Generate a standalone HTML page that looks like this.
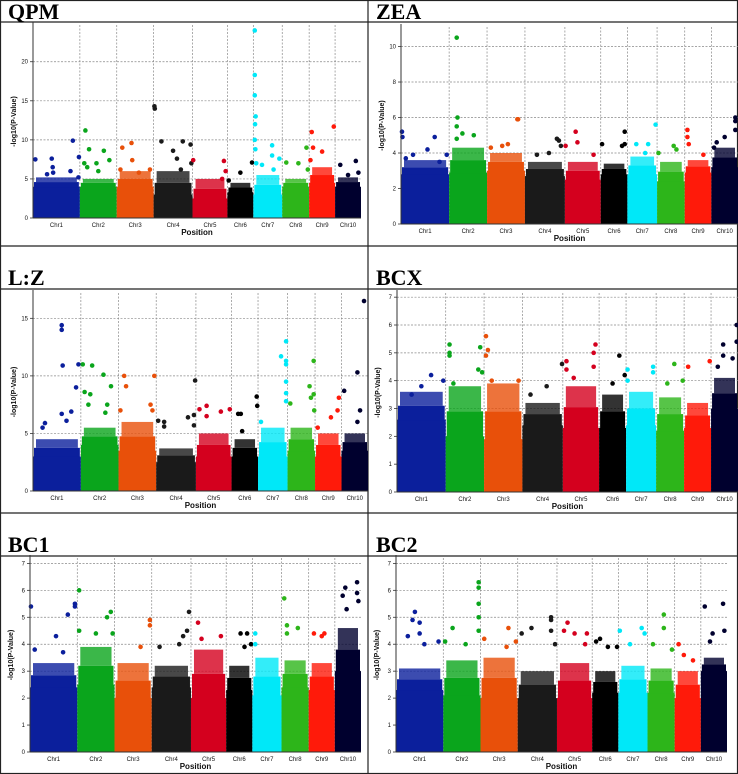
<!DOCTYPE html>
<html><head><meta charset="utf-8">
<style>
html,body{margin:0;padding:0;background:#fff;}
svg{display:block;}
</style></head>
<body>
<svg id="fig" width="738" height="774" viewBox="0 0 738 774" xmlns="http://www.w3.org/2000/svg">
<rect x="0" y="0" width="738" height="774" fill="#fff"/>
<g id="frame" stroke="#222" stroke-width="1.2" fill="none">
  <rect x="0.5" y="0.5" width="737" height="773"/>
  <line x1="368" y1="0" x2="368" y2="774"/>
  <line x1="0" y1="22" x2="738" y2="22"/>
  <line x1="0" y1="246" x2="738" y2="246"/>
  <line x1="0" y1="289" x2="738" y2="289"/>
  <line x1="0" y1="513" x2="738" y2="513"/>
  <line x1="0" y1="556" x2="738" y2="556"/>
</g>
<g font-family="Liberation Serif, serif" font-weight="bold" font-size="22" fill="#000">
  <text x="8" y="19">QPM</text>
  <text x="376" y="19">ZEA</text>
  <text x="8" y="285">L:Z</text>
  <text x="376" y="285">BCX</text>
  <text x="8" y="552">BC1</text>
  <text x="376" y="552">BC2</text>
</g>
<g id="plots"></g>
</svg>
<script>
// ---- data ----
const chrNames = ["Chr1","Chr2","Chr3","Chr4","Chr5","Chr6","Chr7","Chr8","Chr9","Chr10"];
const chrLen = [47,37,37,39,35,26,29,27,26,26];
const chrColors = ["#0b1f9c","#0aa51c","#e8500a","#1a1a1a","#d4001e","#000000","#00e8f8","#2db51a","#ff1a0a","#00002e"];

const qpmTicks = [0,5,10,15,20];
const qpmBase = [4,4,4,3,2.5,3.3,3,4,4.5,4];
const qpmTop = [5.2,5,6,6,5,4.5,5.5,5,6.5,5.2];
const qpmPeaks = [[0,0.05,7.5],[0,0.3,5.6],[0,0.4,7.6],[0,0.42,6.5],[0,0.43,5.8],[0,0.85,9.9],[0,0.8,6],[0,0.98,7.8],[0,0.97,5.2],
 [1,0.12,7],[1,0.15,11.2],[1,0.25,8.8],[1,0.2,6.5],[1,0.45,7],[1,0.65,8.6],[1,0.8,7.4],[1,0.5,6],
 [2,0.15,9],[2,0.4,9.6],[2,0.42,7.4],[2,0.1,6.2],[2,0.6,5.8],[2,0.9,6.2],
 [3,0.02,14.3],[3,0.03,14],[3,0.2,9.8],[3,0.5,8.6],[3,0.6,7.6],[3,0.75,9.8],[3,0.95,9.4],[3,0.97,7],[3,0.7,6.2],
 [4,0.02,7.4],[4,0.9,7.3],[4,0.95,6],[4,0.85,5],
 [5,0.05,4.8],[5,0.5,5.8],[5,0.95,7.1],
 [6,0.05,24],[6,0.05,18.3],[6,0.05,15.7],[6,0.08,13],[6,0.06,12],[6,0.05,10],[6,0.07,8.8],[6,0.1,7],[6,0.3,6.8],[6,0.65,9.3],[6,0.65,8],[6,0.9,7.6],[6,0.7,6.2],
 [7,0.15,7.1],[7,0.6,7],[7,0.9,9],[7,0.95,6.2],
 [8,0.1,11],[8,0.15,9],[8,0.5,8.5],[8,0.95,11.7],[8,0.05,7.4],
 [9,0.2,6.8],[9,0.5,5.5],[9,0.8,7.3],[9,0.9,5.8]];

const zeaTicks = [0,2,4,6,8,10];
const zeaBase = [2.8,2.9,3,2.7,2.5,2.8,2.8,2.4,2.9,3.2];
const zeaTop = [3.6,4.3,4,3.5,3.5,3.4,3.8,3.5,3.6,4.3];
const zeaPeaks = [[0,0.02,5.2],[0,0.03,4.9],[0,0.1,3.7],[0,0.25,3.9],[0,0.55,4.2],[0,0.7,4.9],[0,0.8,3.5],[0,0.95,3.9],
 [1,0.2,10.5],[1,0.22,6],[1,0.2,5.5],[1,0.35,5.1],[1,0.65,5],[1,0.2,4.8],
 [2,0.1,4.3],[2,0.4,4.4],[2,0.55,4.5],[2,0.8,5.9],[2,0.82,5.9],
 [3,0.6,4],[3,0.8,4.8],[3,0.85,4.7],[3,0.9,4.4],[3,0.3,3.9],
 [4,0.02,4.4],[4,0.3,5.2],[4,0.35,4.6],[4,0.8,3.9],
 [5,0.05,4.5],[5,0.9,5.2],[5,0.9,4.5],[5,0.8,4.4],
 [6,0.3,4.5],[6,0.7,4.5],[6,0.6,4],[6,0.95,5.6],
 [7,0.05,4],[7,0.6,4.4],[7,0.7,4.2],
 [8,0.1,5.3],[8,0.15,4.5],[8,0.1,4.9],[8,0.7,3.9],
 [9,0.9,6],[9,0.9,5.8],[9,0.9,5.3],[9,0.5,4.9],[9,0.1,4.3],[9,0.2,4.6]];

const lzTicks = [0,5,10,15];
const lzBase = [3,4,3.5,2.5,3,3,3,3.5,3,3.5];
const lzTop = [4.5,5.5,6,3.7,5,4.5,5.5,5.5,5,5];
const lzPeaks = [[0,0.6,14.4],[0,0.6,14],[0,0.62,10.9],[0,0.95,11],[0,0.9,9],[0,0.6,6.7],[0,0.8,6.9],[0,0.7,6.1],[0,0.2,5.5],[0,0.25,5.9],
 [1,0.05,11],[1,0.3,10.9],[1,0.6,10.1],[1,0.8,9.1],[1,0.1,8.6],[1,0.25,8.4],[1,0.2,7.5],[1,0.7,7.5],[1,0.65,6.8],
 [2,0.15,10],[2,0.2,9.1],[2,0.95,10],[2,0.85,7.5],[2,0.05,7],[2,0.9,7],
 [3,0.05,6.1],[3,0.2,6],[3,0.2,5.6],[3,0.8,6.4],[3,0.98,9.6],[3,0.95,6.6],[3,0.95,5.7],
 [4,0.1,7.1],[4,0.3,7.4],[4,0.7,6.9],[4,0.95,7.1],[4,0.3,6.5],
 [5,0.25,6.7],[5,0.35,6.7],[5,0.95,8.2],[5,0.97,7.4],[5,0.4,5.2],
 [6,0.95,13],[6,0.95,11.3],[6,0.78,11.7],[6,0.95,11],[6,0.95,9.5],[6,0.95,8.5],[6,0.95,7.8],[6,0.1,6],
 [7,0.1,7.6],[7,0.8,9.1],[7,0.85,8.1],[7,0.95,11.3],[7,0.95,8.4],[7,0.97,7],
 [8,0.9,8.1],[8,0.85,7],[8,0.6,6.4],[8,0.1,5.5],
 [9,0.1,8.7],[9,0.6,10.3],[9,0.85,16.5],[9,0.7,7],[9,0.6,6]];

const bcTicks = [0,1,2,3,4,5,6,7];
const bcxBase = [2.6,2,1.9,2.4,2.3,2.3,2.4,2.2,2.3,3];
const bcxTop = [3.6,3.8,3.9,3.2,3.8,3.5,3.6,3.4,3.2,4.1];
const bcxPeaks = [[0,0.7,4.2],[0,0.5,3.8],[0,0.95,4],[0,0.3,3.5],
 [1,0.1,5.3],[1,0.1,4.9],[1,0.1,5],[1,0.9,5.2],[1,0.85,4.4],[1,0.95,4.3],[1,0.2,3.9],
 [2,0.05,5.6],[2,0.1,5.1],[2,0.05,4.9],[2,0.2,4],[2,0.9,4],
 [3,0.6,3.8],[3,0.2,3.5],[3,0.98,4.6],
 [4,0.1,4.7],[4,0.9,5.3],[4,0.85,5],[4,0.85,4.5],[4,0.1,4.4],[4,0.3,4.1],
 [5,0.75,4.9],[5,0.95,4.2],[5,0.5,3.9],
 [6,0.05,4.4],[6,0.9,4.5],[6,0.9,4.3],[6,0.05,4],
 [7,0.65,4.6],[7,0.4,3.9],[7,0.95,4],
 [8,0.15,4.5],[8,0.95,4.7],
 [9,0.95,6],[9,0.95,5.4],[9,0.45,5.3],[9,0.45,4.9],[9,0.25,4.5],[9,0.8,4.8]];

const bc1Base = [2.4,2.5,2,2.4,2,2.3,2.1,2.4,2.3,3];
const bc1Top = [3.3,3.9,3.3,3.2,3.8,3.2,3.5,3.4,3.3,4.6];
const bc1Peaks = [[0,0.02,5.4],[0,0.8,5.1],[0,0.95,5.5],[0,0.95,5.4],[0,0.55,4.3],[0,0.1,3.8],[0,0.7,3.7],
 [1,0.05,6],[1,0.05,4.5],[1,0.5,4.4],[1,0.8,5],[1,0.9,5.2],[1,0.95,4.4],
 [2,0.95,4.9],[2,0.95,4.7],[2,0.7,3.9],
 [3,0.7,4],[3,0.8,4.3],[3,0.95,5.2],[3,0.9,4.5],[3,0.2,3.9],
 [4,0.2,4.8],[4,0.3,4.2],[4,0.85,4.3],
 [5,0.55,4.4],[5,0.8,4.4],[5,0.95,4],[5,0.7,3.9],
 [6,0.1,4.4],[6,0.1,4],
 [7,0.1,5.7],[7,0.2,4.7],[7,0.2,4.4],[7,0.6,4.6],
 [8,0.2,4.4],[8,0.5,4.3],[8,0.6,4.4],
 [9,0.3,5.8],[9,0.4,6.1],[9,0.85,6.3],[9,0.85,5.9],[9,0.9,5.6],[9,0.45,5.3]];

const bc2Base = [2.3,2.1,2,2,2,2.2,2.2,2.2,2,3];
const bc2Top = [3.1,3.4,3.5,3,3.3,3,3.2,3.1,3,3.5];
const bc2Peaks = [[0,0.35,4.9],[0,0.4,5.2],[0,0.5,4.8],[0,0.5,4.4],[0,0.25,4.3],[0,0.6,4],[0,0.9,4.1],
 [1,0.25,4.6],[1,0.95,6.3],[1,0.95,6.1],[1,0.95,5.5],[1,0.95,5],[1,0.95,4.5],[1,0.6,4],[1,0.05,4.1],
 [2,0.1,4.2],[2,0.75,4.6],[2,0.95,4.1],[2,0.7,3.9],
 [3,0.1,4.4],[3,0.35,4.6],[3,0.85,5],[3,0.85,4.9],[3,0.85,4.5],[3,0.95,4],
 [4,0.2,4.5],[4,0.3,4.8],[4,0.5,4.4],[4,0.85,4.4],[4,0.8,4],
 [5,0.15,4.1],[5,0.3,4.2],[5,0.6,3.9],[5,0.95,3.9],
 [6,0.05,4.5],[6,0.4,4],[6,0.8,4.6],[6,0.9,4.4],
 [7,0.2,4],[7,0.6,5.1],[7,0.6,4.6],[7,0.9,3.8],
 [8,0.15,4],[8,0.35,3.6],[8,0.7,3.4],
 [9,0.15,5.4],[9,0.85,5.5],[9,0.45,4.4],[9,0.9,4.5],[9,0.35,4.1]];

// ---- layout ----
const panels = [
 {id:"qpm", x0:33, x1:361, yZero:218, yTop:25, yMax:24.7, ticks:qpmTicks, base:qpmBase, top:qpmTop, peaks:qpmPeaks},
 {id:"zea", x0:401, x1:738, yZero:224, yTop:27, yMax:11.1, ticks:zeaTicks, base:zeaBase, top:zeaTop, peaks:zeaPeaks},
 {id:"lz", x0:33, x1:368, yZero:491, yTop:293, yMax:17.2, ticks:lzTicks, base:lzBase, top:lzTop, peaks:lzPeaks},
 {id:"bcx", x0:397, x1:738, yZero:492, yTop:293, yMax:7.15, ticks:bcTicks, base:bcxBase, top:bcxTop, peaks:bcxPeaks},
 {id:"bc1", x0:30, x1:361, yZero:752, yTop:558, yMax:7.2, ticks:bcTicks, base:bc1Base, top:bc1Top, peaks:bc1Peaks},
 {id:"bc2", x0:396, x1:727, yZero:752, yTop:558, yMax:7.2, ticks:bcTicks, base:bc2Base, top:bc2Top, peaks:bc2Peaks}
];
const NS = "http://www.w3.org/2000/svg";
const root = document.getElementById("plots");
function mk(tag, attrs, parent){ const e=document.createElementNS(NS,tag); for(const k in attrs) e.setAttribute(k,attrs[k]); parent.appendChild(e); return e; }
const totalLen = chrLen.reduce((a,b)=>a+b,0);

panels.forEach(p=>{
  const g = mk("g",{},root);
  
  
  const yS = v => p.yZero - v*(p.yZero-p.yTop)/p.yMax;
  const starts=[]; let acc=0; chrLen.forEach(l=>{starts.push(acc); acc+=l;});
  const xS = pos => p.x0 + pos/totalLen*(p.x1-p.x0);
  const chrX = (c,f) => xS(starts[c] + f*chrLen[c]);
  p.ticks.forEach(t=>{ if(t>0){ const l=mk("line",{x1:p.x0,x2:p.x1,y1:yS(t),y2:yS(t),stroke:"#888","stroke-width":0.7,"stroke-dasharray":"2,1.5"},g);
    
     }});
  for(let c=1;c<chrLen.length;c++){ const l=mk("line",{x1:chrX(c,0),x2:chrX(c,0),y1:p.yTop,y2:p.yZero,stroke:"#888","stroke-width":0.7,"stroke-dasharray":"2,1.5"},g);
    
     }
  chrLen.forEach((l,c)=>{
    const xa=chrX(c,0), xb=chrX(c,1);
    const mid = (p.base[c]+p.top[c])/2;
    const r1=mk("rect",{x:xa,y:yS(p.base[c]),width:xb-xa,height:p.yZero-yS(p.base[c]),fill:chrColors[c]},g);
    
    
    const r2=mk("rect",{x:xa+1,y:yS(mid),width:xb-xa-2,height:yS(p.base[c])-yS(mid)+0.5,fill:chrColors[c]},g);
    
    
    const r3=mk("rect",{x:xa+3,y:yS(p.top[c]),width:xb-xa-6,height:yS(mid)-yS(p.top[c]),fill:chrColors[c],opacity:0.8},g);
    
    
  });
  p.peaks.forEach(pk=>{
    const d=mk("circle",{cx:chrX(pk[0],pk[1]),cy:yS(pk[2]),r:2.3,fill:chrColors[pk[0]]},g);
    
    
  });
  const ya=mk("line",{x1:p.x0,x2:p.x0,y1:p.yTop-3,y2:p.yZero,stroke:"#333","stroke-width":1},g);
  
  
  const xa=mk("line",{x1:p.x0,x2:p.x1,y1:p.yZero,y2:p.yZero,stroke:"#333","stroke-width":1},g);
  
  
  p.ticks.forEach(t=>{
    mk("line",{x1:p.x0-3,x2:p.x0,y1:yS(t),y2:yS(t),stroke:"#333","stroke-width":0.8},g);
    const tx=mk("text",{x:p.x0-5,y:yS(t)+2,"font-size":6,"font-family":"Liberation Sans, sans-serif","text-anchor":"end",fill:"#111"},g);
    tx.textContent=t;
    
    
  });
  chrNames.forEach((n,c)=>{
    const tx=mk("text",{x:chrX(c,0.5),y:p.yZero+9,"font-size":6,"font-family":"Liberation Sans, sans-serif","text-anchor":"middle",fill:"#111"},g);
    tx.textContent=n;
    
    
  });
  const xt=mk("text",{x:(p.x0+p.x1)/2,y:p.yZero+17,"font-size":8,"font-weight":"bold","font-family":"Liberation Sans, sans-serif","text-anchor":"middle",fill:"#111"},g);
  xt.textContent="Position";
  
  
  const cy=(p.yTop+p.yZero)/2;
  const yt=mk("text",{x:p.x0-17,y:cy,"font-size":7,"font-weight":"bold","font-family":"Liberation Sans, sans-serif","text-anchor":"middle",fill:"#111",transform:"rotate(-90 "+(p.x0-17)+" "+cy+")"},g);
  yt.textContent="-log10(P-Value)";
  
  
});
</script>
</body></html>
